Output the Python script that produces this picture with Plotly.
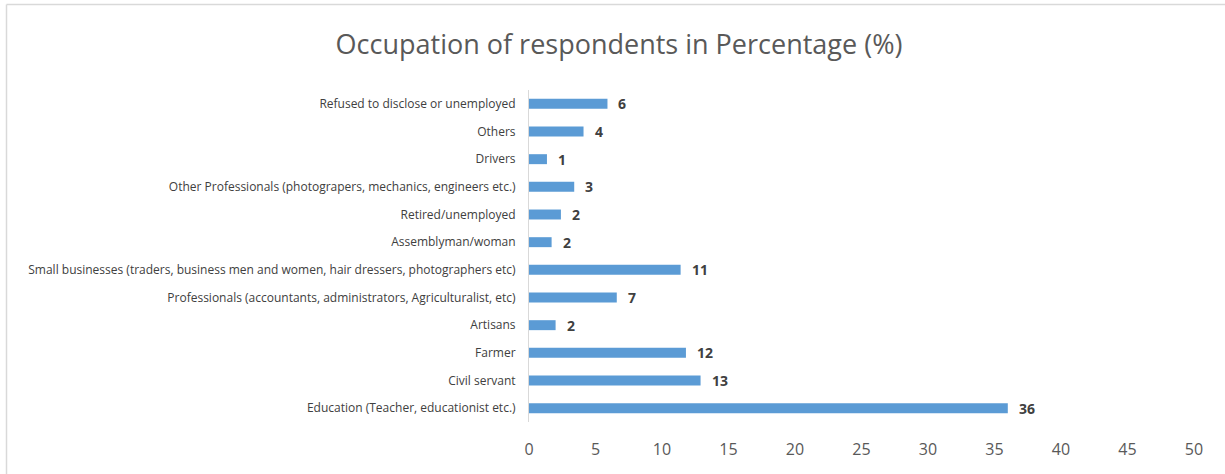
import plotly.graph_objects as go

# Occupation categories, top to bottom as listed
categories = [
    "Refused to disclose or unemployed",
    "Others",
    "Drivers",
    "Other Professionals (photograpers, mechanics, engineers etc.)",
    "Retired/unemployed",
    "Assemblyman/woman",
    "Small businesses (traders, business men and women, hair dressers, photographers etc)",
    "Professionals (accountants, administrators, Agriculturalist, etc)",
    "Artisans",
    "Farmer",
    "Civil servant",
    "Education (Teacher, educationist etc.)",
]
# Share of respondents (%)
percentages = [5.9, 4.1, 1.35, 3.4, 2.4, 1.7, 11.4, 6.6, 2.0, 11.8, 12.9, 36.0]

x_ticks = [0, 5, 10, 15, 20, 25, 30, 35, 40, 45, 50]

W, H = 1225, 474
L, R, T, B = 529, 31, 90, 52
pw, ph = W - L - R, H - T - B

fig = go.Figure(
    go.Bar(
        y=categories,
        x=percentages,
        orientation="h",
        marker=dict(color="#5B9BD5", line=dict(width=0)),
        hoverinfo="x+y",
    )
)

# value labels beside each bar
for cat, val in zip(categories, percentages):
    fig.add_annotation(
        x=val, y=cat, xref="x", yref="y",
        text=f"<b>{val:.0f}</b>",
        showarrow=False, xanchor="left", xshift=9,
        font=dict(family="Open Sans", size=14, color="#404040"),
    )

# outer chart frame (left and top edges visible)
def px_x(px):
    return (px - L) / pw

def px_y(py):
    return 1 - (py - T) / ph

fig.add_shape(type="line", xref="paper", yref="paper",
              x0=px_x(6.5), x1=px_x(W + 5), y0=px_y(4.5), y1=px_y(4.5),
              line=dict(color="#d9d9d9", width=1.5))
fig.add_shape(type="line", xref="paper", yref="paper",
              x0=px_x(6.5), x1=px_x(6.5), y0=px_y(4.5), y1=px_y(H + 5),
              line=dict(color="#d9d9d9", width=1.5))

fig.update_layout(
    width=W, height=H,
    margin=dict(l=L, r=R, t=T, b=B),
    paper_bgcolor="white", plot_bgcolor="white",
    title=dict(
        text="Occupation of respondents in Percentage (%)",
        x=619 / W, xanchor="center", xref="container",
        y=1 - 45 / H, yanchor="middle", yref="container",
        font=dict(family="Open Sans", size=27, color="#595959"),
    ),
    bargap=0.64,
    showlegend=False,
    xaxis=dict(
        range=[0, 50], tickvals=x_ticks, ticktext=[str(v) for v in x_ticks],
        showgrid=False, zeroline=False, showline=False,
        ticks="", ticklabelstandoff=16,
        tickfont=dict(family="Open Sans", size=16, color="#595959"),
        fixedrange=True,
    ),
    yaxis=dict(
        categoryorder="array", categoryarray=categories[::-1],
        showgrid=False, zeroline=False,
        showline=True, linecolor="#d9d9d9", linewidth=1,
        ticks="", ticklabelstandoff=10,
        tickfont=dict(family="Open Sans", size=12, color="#404040"),
        fixedrange=True,
    ),
)

fig.write_html("out.html")
